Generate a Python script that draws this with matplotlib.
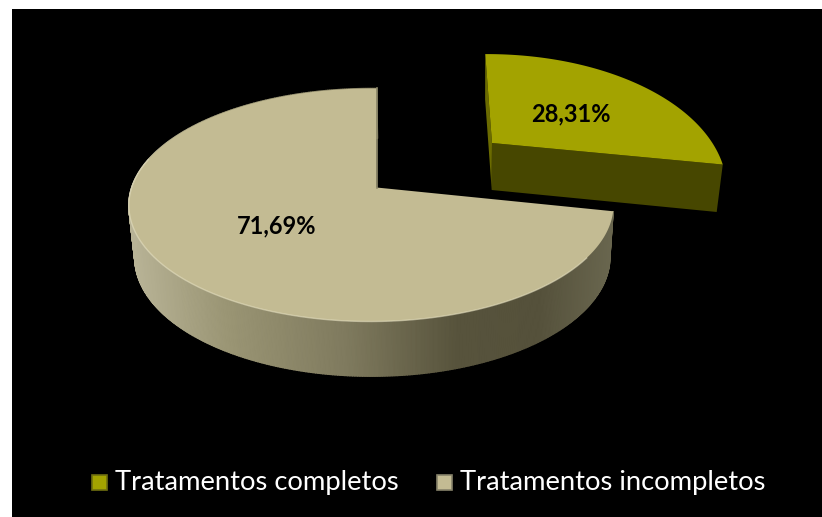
import numpy as np
import matplotlib
matplotlib.use('Agg')
import matplotlib.pyplot as plt
from matplotlib.colors import LinearSegmentedColormap
from matplotlib.patches import Rectangle

categories = ['Tratamentos completos', 'Tratamentos incompletos']
shares = [28.31, 71.69]
value_labels = ['28,31%', '71,69%']

W, H = 822, 517


def project(theta, r, p):
    # clockwise from 12 o'clock, disc seen in perspective
    u = r * np.sin(theta)
    v = r * np.cos(theta)
    d = 1 + p['k'] * v + p['m'] * u
    return p['x0'] + p['A'] * u / d, p['y0'] - p['B'] * v / d


def lower(x, y, p):
    # the bottom of the slab, a bit narrower because of the perspective
    return p['vx'] + (x - p['vx']) * p['s'], y + p['depth'] + (y - p['y0']) * 0.02


big = dict(x0=376.5, y0=187.5, A=239.5, B=113.9, k=0.15, m=0.0217, vx=430, s=0.98, depth=52)
small = dict(x0=492, y0=143, A=227, B=120, k=0.35, m=0.03, vx=480, s=0.975, depth=47)

fig = plt.figure(figsize=(W / 100, H / 100), dpi=100, facecolor='white')
ax = fig.add_axes([0, 0, 1, 1])
ax.set_xlim(0, W)
ax.set_ylim(H, 0)
ax.axis('off')
ax.add_patch(Rectangle((12, 9), W - 12, H - 9, fc='black', ec='none', zorder=0))

sweep = 2 * np.pi * shares[0] / sum(shares)

# big slice, side wall first
side_cmap = LinearSegmentedColormap.from_list('side', [
    (0.0, '#b8b396'), (0.2, '#9a9574'), (0.45, '#7f7a5e'),
    (0.68, '#57533c'), (0.85, '#55513b'), (1.0, '#69664e')])
t = np.linspace(sweep, 2 * np.pi, 500)
x, y = project(t, 1, big)
xl, yl = lower(x, y, big)
for i in range(len(t) - 1):
    c = side_cmap((x[i] - 129) / (613 - 129))
    ax.fill([x[i], x[i + 1], xl[i + 1], xl[i]], [y[i], y[i + 1], yl[i + 1], yl[i]],
            color=c, lw=1.0, zorder=2)
ax.fill(np.r_[big['x0'], x], np.r_[big['y0'], y], color='#c3bb93', lw=0, zorder=3)
# bevel on the edges of the top face
front = (t > np.radians(125)) & (t < np.radians(285))
ax.plot(x[front], y[front], color='#e9e4c6', lw=1.0, alpha=0.55, zorder=4)
ax.plot([x[-1], big['x0']], [y[-1], big['y0']], color='#8f8a6c', lw=1.2, zorder=4)

# exploded slice
t2 = np.linspace(np.radians(-2.3), sweep + np.radians(-1.9), 90)
x2, y2 = project(t2, 1, small)
ax0, ay0 = small['x0'], small['y0']
bx0, by0 = lower(ax0, ay0, small)
bx, by = lower(x2, y2, small)
ax.fill([x2[0], ax0, bx0, bx[0]], [y2[0], ay0, by0, by[0]], color='#6b6b00', lw=0, zorder=5)
ax.fill([ax0, x2[-1], bx[-1], bx0], [ay0, y2[-1], by[-1], by0], color='#474700', lw=0, zorder=5)
ax.fill(np.r_[ax0, x2], np.r_[ay0, y2], color='#a3a300', lw=0, zorder=6)

ax.text(571, 114, value_labels[0], ha='center', va='center', fontsize=17,
        fontweight='bold', family='Lato', color='black', zorder=7)
ax.text(277, 226, value_labels[1], ha='center', va='center', fontsize=17,
        fontweight='bold', family='Lato', color='black', zorder=7)

# legend
legend_colors = ['#a3a300', '#c3bb93']
legend_edges = ['#6f6f10', '#86826a']
legend_x = [92, 437]
text_x = [115, 460]
for name, col, edge, mx, tx in zip(categories, legend_colors, legend_edges, legend_x, text_x):
    ax.add_patch(Rectangle((mx, 475), 15, 15, fc=col, ec=edge, lw=1.2, zorder=7))
    ax.text(tx, 490, name, ha='left', va='baseline', fontsize=19.7, family='Lato',
            color='white', zorder=7)

fig.savefig('out.png', dpi=100, facecolor='white')
